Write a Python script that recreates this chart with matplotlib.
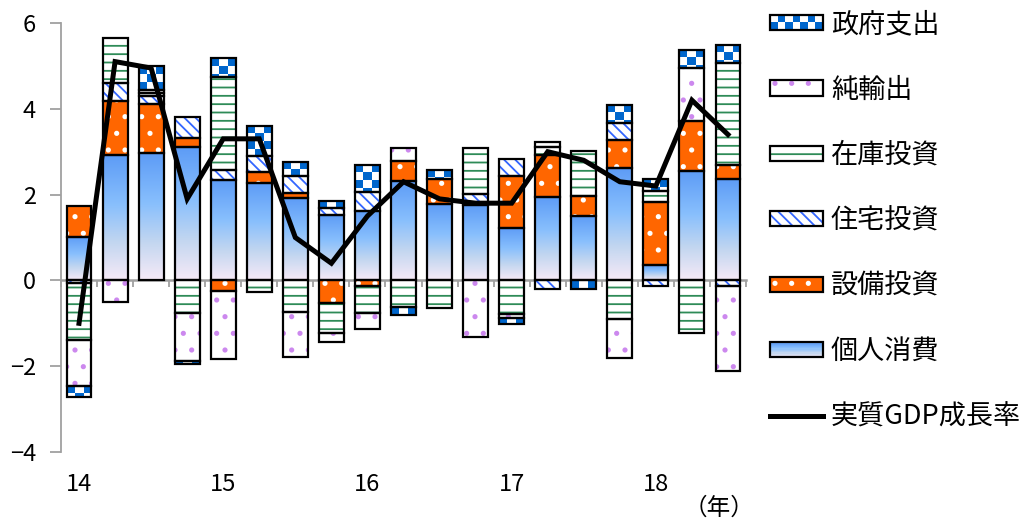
import numpy as np
import matplotlib
matplotlib.use("Agg")
import matplotlib.pyplot as plt
from matplotlib.colors import LinearSegmentedColormap, ListedColormap
from matplotlib.patches import Rectangle
from matplotlib.lines import Line2D
from matplotlib.legend_handler import HandlerBase

plt.rcParams["font.family"] = ["Noto Sans CJK JP", "DejaVu Sans"]
plt.rcParams["hatch.linewidth"] = 1.3

# 四半期ごとの寄与度（2014Q1〜2018Q3）
year_ticks = [0, 4, 8, 12, 16]
year_labels = ["14", "15", "16", "17", "18"]

kojin = [1.02, 2.93, 2.98, 3.11, 2.35, 2.27, 1.92, 1.53, 1.61, 2.31,
         1.78, 1.75, 1.22, 1.94, 1.51, 2.62, 0.35, 2.56, 2.36]
setsubi = [0.71, 1.26, 1.14, 0.22, -0.25, 0.25, 0.12, -0.52, -0.13, 0.47,
           0.58, 0.0, 1.21, 0.99, 0.45, 0.66, 1.47, 1.16, 0.34]
jutaku = [-0.05, 0.41, 0.18, 0.48, 0.23, 0.37, 0.39, 0.16, 0.45, 0.0,
          0.0, 0.27, 0.40, -0.19, 0.0, 0.39, -0.13, 0.0, -0.13]
zaiko = [-1.35, 1.04, 0.07, -0.75, 2.17, -0.26, -0.74, -0.71, -0.62, -0.62,
         -0.64, 1.07, -0.79, 0.19, 1.05, -0.89, 0.27, -1.22, 2.36]
junyushutsu = [-1.06, -0.50, 0.07, -1.13, -1.59, 0.0, -1.04, -0.20, -0.39, 0.31,
               0.0, -1.31, -0.08, 0.10, 0.0, -0.92, 0.0, 1.23, -1.99]
seifu = [-0.26, 0.0, 0.55, -0.06, 0.43, 0.71, 0.33, 0.15, 0.64, -0.19,
         0.22, 0.0, -0.15, 0.0, -0.19, 0.42, 0.27, 0.42, 0.43]
gdp = [-1.0, 5.1, 4.95, 1.9, 3.3, 3.3, 1.0, 0.4, 1.5, 2.3,
       1.9, 1.8, 1.8, 3.0, 2.8, 2.3, 2.2, 4.2, 3.4]

BLUE_GRAD = LinearSegmentedColormap.from_list(
    "grad", [(0.0, "#F6EAF7"), (0.3, "#C2D6F0"), (0.6, "#88BFFD"), (1.0, "#5C9BF6")])
CHECK = ListedColormap(["white", "#0066CC"])

# (名前, 値, 塗り, ハッチ, ハッチ色)
series = [
    ("個人消費", kojin, "gradient", None, None),
    ("設備投資", setsubi, "#FF6600", ".", "white"),
    ("住宅投資", jutaku, "white", "\\\\\\", "#3366FF"),
    ("在庫投資", zaiko, "white", "--", "#2E8B57"),
    ("純輸出", junyushutsu, "white", ".", "#CC88EE"),
    ("政府支出", seifu, "checker", None, None),
]

fig = plt.figure(figsize=(10.36, 5.22), dpi=100)
ax = fig.add_axes([61 / 1036, 1 - 452 / 522, 685 / 1036, 429 / 522])

x = np.arange(len(gdp))
W = 0.69
pos = np.zeros(len(x))
neg = np.zeros(len(x))

for name, vals, fill, hatch, hcol in series:
    v = np.array(vals)
    bottom = np.where(v >= 0, pos, neg)
    m = v != 0
    if fill not in ("gradient", "checker"):
        ax.bar(x[m], v[m], W, bottom=bottom[m], facecolor=fill, hatch=hatch,
               edgecolor=hcol, linewidth=0, zorder=2)
    outline = ax.bar(x[m], v[m], W, bottom=bottom[m], facecolor="none",
                     edgecolor="black", linewidth=1.6, zorder=3)
    if fill == "gradient":
        grad = np.linspace(0, 1, 256).reshape(-1, 1)
        for xi, b, h, p in zip(x[m], bottom[m], v[m], outline.patches):
            im = ax.imshow(grad, cmap=BLUE_GRAD, origin="lower", aspect="auto",
                           extent=(xi - W / 2, xi + W / 2, b, b + h), zorder=2)
            im.set_clip_path(p)
    elif fill == "checker":
        sx = W / 3
        sy = 0.18
        for xi, b, h, p in zip(x[m], bottom[m], v[m], outline.patches):
            top = max(b, b + h)
            nr = int(np.ceil(abs(h) / sy)) + 1
            board = np.indices((nr, 3)).sum(axis=0) % 2 == 0
            im = ax.imshow(board.astype(float), cmap=CHECK, origin="upper",
                           aspect="auto", interpolation="nearest",
                           extent=(xi - W / 2, xi + W / 2, top - nr * sy, top),
                           zorder=2)
            im.set_clip_path(p)
    pos += np.clip(v, 0, None)
    neg += np.clip(v, None, 0)

ax.plot(x, gdp, color="black", linewidth=3.6, solid_joinstyle="miter", zorder=5)

ax.set_xlim(-0.5, 18.5)
ax.set_ylim(-4, 6)
for s in ("top", "right"):
    ax.spines[s].set_visible(False)
ax.spines["left"].set_color("#A0A0A0")
ax.spines["left"].set_linewidth(1.3)
ax.spines["bottom"].set_position(("data", 0))
ax.spines["bottom"].set_color("#A0A0A0")
ax.spines["bottom"].set_linewidth(1.8)
ax.spines["bottom"].set_zorder(1)
ax.set_xticks([])
ax.set_xticks(np.arange(-0.5, 19, 1), minor=True)
ax.tick_params(axis="x", which="minor", direction="out", length=5,
               width=1.3, color="#A0A0A0")
ax.set_yticks([-4, -2, 0, 2, 4, 6])
ax.tick_params(axis="y", length=8, width=1.3, color="#A0A0A0",
               pad=10, labelsize=17)

sec = ax.secondary_xaxis(0.0)
sec.set_xticks(year_ticks, labels=year_labels)
sec.tick_params(length=0, pad=15, labelsize=17)
sec.spines["bottom"].set_visible(False)

fig.text(719 / 1036, 1 - 508 / 522, "（年）", fontsize=17, ha="center", va="center")


class Swatch(HandlerBase):
    def __init__(self, fill, hatch=None, hcol=None):
        super().__init__()
        self.fill, self.hatch, self.hcol = fill, hatch, hcol

    def create_artists(self, legend, orig_handle, xdescent, ydescent,
                       width, height, fontsize, trans):
        x0, y0 = -xdescent, -ydescent
        arts = []
        if self.fill == "checker":
            cw, ch = width / 7, height / 2
            arts.append(Rectangle((x0, y0), width, height, facecolor="white", lw=0))
            for i in range(7):
                for j in range(2):
                    if (i + j) % 2 == 0:
                        arts.append(Rectangle((x0 + i * cw, y0 + j * ch), cw, ch,
                                              facecolor="#0066CC", lw=0))
        elif self.fill == "gradient":
            n = 12
            for k in range(n):
                arts.append(Rectangle((x0, y0 + k * height / n), width, height / n,
                                      facecolor=BLUE_GRAD((k + 0.5) / n), lw=0))
        else:
            arts.append(Rectangle((x0, y0), width, height, facecolor=self.fill,
                                  hatch=self.hatch, edgecolor=self.hcol, lw=0))
        arts.append(Rectangle((x0, y0), width, height, fill=False,
                              edgecolor="black", lw=1.6))
        for a in arts:
            a.set_transform(trans)
        return arts


handles, labels, hmap = [], [], {}
for name, vals, fill, hatch, hcol in reversed(series):
    h = Rectangle((0, 0), 1, 1)
    handles.append(h)
    labels.append(name)
    hmap[h] = Swatch(fill, hatch, hcol)
line_h = Line2D([], [], color="black", linewidth=3.6)
handles.append(line_h)
labels.append("実質GDP成長率")

fig.legend(handles, labels, handler_map=hmap, loc="upper left",
           bbox_to_anchor=(770 / 1036, 1 - 11 / 522), frameon=False,
           fontsize=19.5, handlelength=1.95, handleheight=0.5,
           handletextpad=0.3, labelspacing=1.42, borderpad=0, borderaxespad=0)

fig.savefig("out.png", dpi=100)
